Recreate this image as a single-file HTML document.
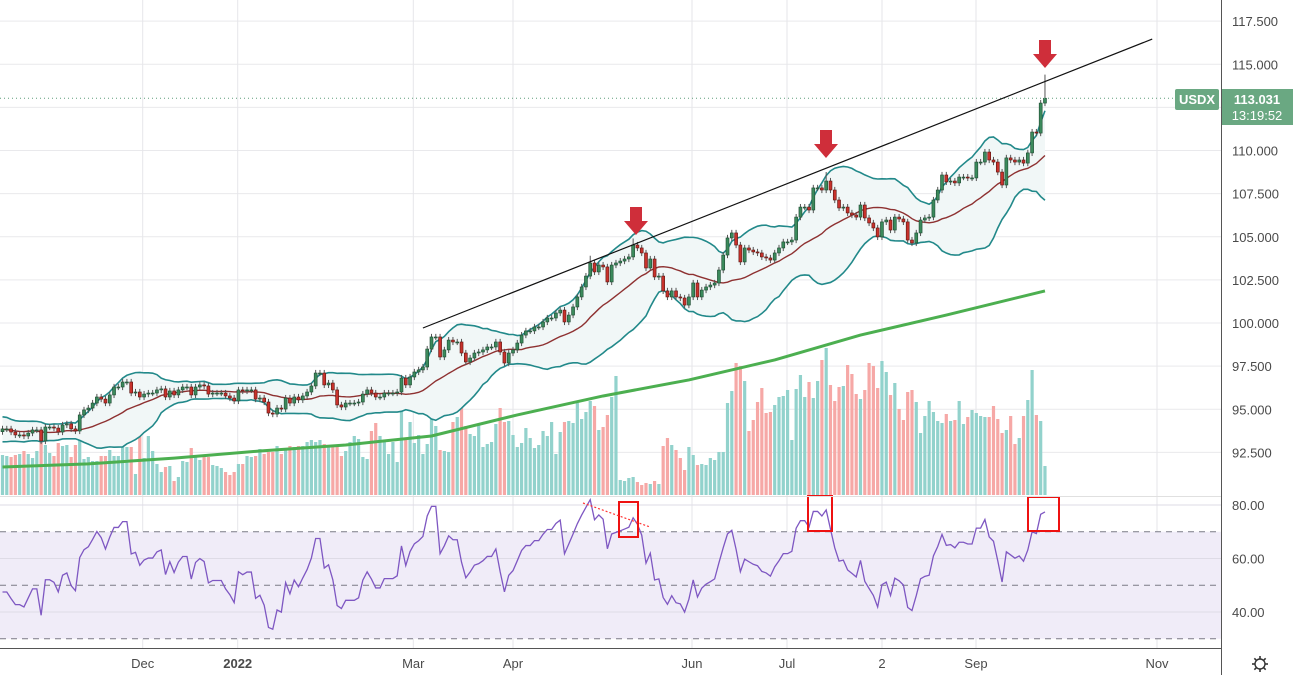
<!DOCTYPE html>
<html><head><meta charset="utf-8"><style>
html,body{margin:0;padding:0;background:#fff;}
body{width:1293px;height:675px;overflow:hidden;font-family:"Liberation Sans",sans-serif;}
svg text{font-family:"Liberation Sans",sans-serif;}
</style></head><body>
<svg id="chart" width="1293" height="675" xmlns="http://www.w3.org/2000/svg">
<g id="grid"></g>
<g id="rsiPane"></g>
<g id="volume"></g>
<g id="bands"></g>
<g id="sma"></g>
<g id="candles"></g>
<g id="annot"></g>
<g id="axes"></g>
</svg>
<script>
// ---- data ----
const prefixCloses = [94.2,94.5,94.3,94.0,93.6,93.3,93.5,93.9,94.2,94.4,94.1,93.7,93.4,93.2,93.5,93.8,94.0,93.6,93.7];
const closes = [93.86,93.86,93.68,93.51,93.51,93.45,93.62,93.80,93.80,93.16,93.97,93.97,93.91,93.68,94.09,94.15,93.86,93.74,94.67,94.96,
95.07,95.36,95.71,95.59,95.36,95.83,96.29,96.29,96.58,96.58,95.94,96.00,95.71,95.88,95.94,95.94,96.12,96.18,95.71,96.06,
95.83,96.12,96.29,96.29,95.83,96.29,96.41,96.35,95.88,95.94,95.94,95.94,95.77,95.65,95.48,96.12,96.06,96.12,96.12,95.59,
95.65,95.42,94.78,94.72,95.07,95.01,95.65,95.36,95.71,95.54,95.77,96.00,96.35,97.10,97.10,96.41,96.52,96.12,95.25,95.13,
95.36,95.36,95.36,95.42,95.88,96.12,95.94,95.71,95.71,95.94,95.94,95.94,96.00,96.81,96.41,96.87,97.16,97.28,97.45,98.49,
99.19,99.19,98.03,98.44,99.01,98.90,98.90,98.26,97.74,97.97,98.26,98.32,98.44,98.61,98.61,98.90,98.32,97.68,98.26,98.44,
98.84,99.30,99.54,99.54,99.77,99.77,100.06,100.29,100.29,100.58,100.75,100.06,100.46,100.93,101.51,102.09,102.72,103.48,102.96,103.36,
103.25,102.38,103.36,103.48,103.59,103.71,103.83,104.52,104.35,104.06,103.19,103.71,102.67,102.72,101.86,101.51,101.86,101.51,101.45,101.04,
101.51,102.32,101.51,101.91,102.09,102.20,102.32,103.07,103.94,104.93,105.22,104.52,103.54,104.35,104.23,104.12,104.06,103.83,103.77,103.65,
104.06,104.35,104.70,104.70,104.81,106.14,106.72,106.72,106.55,107.83,107.83,107.71,108.23,107.71,107.13,106.67,106.72,106.38,106.26,106.14,
106.84,106.09,105.80,105.51,104.99,105.86,105.97,105.39,106.14,106.03,105.86,104.81,104.64,105.22,105.97,106.09,106.14,107.13,107.71,108.58,
108.18,108.23,108.12,108.46,108.46,108.41,108.41,109.33,109.33,109.91,109.45,109.33,108.75,108.00,109.57,109.45,109.33,109.45,109.27,109.86,
111.07,111.01,112.75,113.03];
const volumes = [40,39,38,40,41,44,41,37,44,55,50,42,39,52,49,50,38,50,59,36,
38,34,34,39,39,45,39,39,57,48,48,21,65,37,59,44,31,23,28,29,
14,18,34,33,47,39,35,39,38,30,29,27,23,20,23,31,31,39,38,39,
46,41,43,43,49,41,46,49,48,49,49,53,55,53,55,51,49,48,49,39,
44,53,59,56,38,36,64,72,59,55,41,53,33,90,55,73,52,60,41,51,
77,69,45,44,43,73,78,94,69,61,59,71,48,51,53,71,87,73,74,60,
48,52,67,57,47,50,64,59,73,41,63,73,74,72,92,76,83,94,89,65,
68,80,98,119,15,14,17,18,13,10,12,11,14,11,49,57,50,45,37,25,
48,40,30,31,30,37,35,43,43,92,104,132,129,114,64,75,93,107,82,83,
90,98,99,105,55,106,120,98,113,97,114,135,147,110,94,108,109,130,121,101,
96,105,132,129,107,134,123,100,112,86,75,103,105,93,62,79,94,83,74,72,
81,74,75,94,71,78,85,82,79,78,78,89,76,62,65,79,51,57,79,95,
125,80,74,29];
const smaBars = [0,20,40,60,80,100,120,140,160,180,200,220,243];
const smaValues = [91.65,91.83,92.17,92.58,92.93,93.45,94.67,95.77,96.70,97.86,99.30,100.46,101.86];
const spikeHighs = {243:114.4,147:104.9,192:108.75,137:103.9};
const priceTicks = [117.5,115,110,107.5,105,102.5,100,97.5,95,92.5];
const priceGrid = [117.5,115,112.5,110,107.5,105,102.5,100,97.5,95,92.5];
const rsiTicks = [80,60,40];
const rsiDashed = [70,50,30];
const monthLabels = ["Dec","2022","Mar","Apr","Jun","Jul","2","Sep","Nov"];
const monthX = [142.7,237.7,413.3,513,692,787,882,976,1157];
const trendStart = [98,99.71], trendEnd = [268,116.46];

// ---- scales ----
const NS="http://www.w3.org/2000/svg";
const xOf = i => 2.5 + i*4.29;
const yP = p => 323 - (p-100)*17.25;
const yR = r => 505 + (80-r)*2.675;
const yV = v => 495 - v*1.0;
function mk(tag, attrs, parent){const e=document.createElementNS(NS,tag);for(const k in attrs)e.setAttribute(k,attrs[k]);(parent||document.getElementById('chart')).appendChild(e);return e;}
const G = id=>document.getElementById(id);

// grid
for(const p of priceGrid){const l=mk('line',{x1:0,x2:1221,y1:yP(p),y2:yP(p),stroke:'#e9e9ec','stroke-width':1},G('grid'));

}
for(const r of rsiTicks){const l=mk('line',{x1:0,x2:1221,y1:yR(r),y2:yR(r),stroke:'#e4e2ea','stroke-width':1},G('grid'));

}
// rsi band fill
const bf=mk('rect',{x:0,y:yR(70),width:1221,height:yR(30)-yR(70),fill:'#f0ecf8'},G('rsiPane'));


for(const r of rsiTicks){mk('line',{x1:0,x2:1221,y1:yR(r),y2:yR(r),stroke:'#dedbe6','stroke-width':1},G('rsiPane'));}
for(const x of monthX){const l=mk('line',{x1:x,x2:x,y1:0,y2:648,stroke:'#e6e6ea','stroke-width':1},G('grid'));

}
for(const r of rsiDashed){const l=mk('line',{x1:0,x2:1221,y1:yR(r),y2:yR(r),stroke:'#7a7a86','stroke-width':1,'stroke-dasharray':'6,5'},G('rsiPane'));

}

// opens / highs / lows
const allC = prefixCloses.concat(closes);
const opens = closes.map((c,i)=> i===0 ? prefixCloses[prefixCloses.length-1] : closes[i-1]);

// volume
closes.forEach((c,i)=>{
  const up = c>=opens[i];
  const r=mk('rect',{x:xOf(i)-1.6,y:yV(volumes[i]),width:3.2,height:volumes[i]*1.0,fill:up?'#92d2cc':'#f6a8a6'},G('volume'));
  
  
});

// bollinger
const P=prefixCloses.length, up=[],lo=[],mid=[];
for(let i=0;i<closes.length;i++){
  const w=allC.slice(i+P-19,i+P+1);
  const m=w.reduce((a,b)=>a+b,0)/w.length;
  const sd=Math.sqrt(w.reduce((a,b)=>a+(b-m)*(b-m),0)/w.length);
  mid.push(m);up.push(m+2*sd);lo.push(m-2*sd);
}
const ptsU=up.map((v,i)=>xOf(i)+','+yP(v)), ptsL=lo.map((v,i)=>xOf(i)+','+yP(v));
const fillPts=[...ptsU,...ptsL.slice().reverse()].join(' ');
const bfill=mk('polygon',{points:fillPts,fill:'#f1f7f7',stroke:'none'},G('bands'));


const bu=mk('polyline',{points:ptsU.join(' '),fill:'none',stroke:'#22898a','stroke-width':1.6},G('bands'));


const bl=mk('polyline',{points:ptsL.join(' '),fill:'none',stroke:'#22898a','stroke-width':1.6},G('bands'));


const bm=mk('polyline',{points:mid.map((v,i)=>xOf(i)+','+yP(v)).join(' '),fill:'none',stroke:'#8e3131','stroke-width':1.4},G('bands'));



// sma 200
const sl=mk('polyline',{points:smaBars.map((b,k)=>xOf(b)+','+yP(smaValues[k])).join(' '),fill:'none',stroke:'#4caf50','stroke-width':3,'stroke-linejoin':'round'},G('sma'));



// candles
closes.forEach((c,i)=>{
  const o=opens[i], isUp=c>=o;
  const hi=spikeHighs[i]!==undefined?spikeHighs[i]:Math.max(o,c)+0.18;
  const lw=Math.min(o,c)-0.18;
  const x=xOf(i);
  const w=mk('line',{x1:x,x2:x,y1:yP(hi),y2:yP(lw),stroke:'#555','stroke-width':1},G('candles'));
  
  
  const top=yP(Math.max(o,c)), h=Math.max(1,yP(Math.min(o,c))-top);
  const b=mk('rect',{x:x-1.5,y:top,width:3,height:h,fill:isUp?'#3b8a5c':'#c8322c',stroke:isUp?'#1d4a30':'#5a1410','stroke-width':0.6},G('candles'));
  
  
});

// RSI (Wilder 14)
const rsi=[]; let ag=0,al=0;
for(let k=1;k<allC.length;k++){
  const d=allC[k]-allC[k-1], g=Math.max(d,0), l=Math.max(-d,0);
  if(k<=14){ag+=g/14;al+=l/14;} else {ag=(ag*13+g)/14;al=(al*13+l)/14;}
  if(k>=P) rsi.push(al===0?100:100-100/(1+ag/al));
}
const rl=mk('polyline',{points:rsi.map((v,i)=>xOf(i)+','+yR(v)).join(' '),fill:'none',stroke:'#7e57c2','stroke-width':1.3},G('rsiPane'));



// current price line
const cp=mk('line',{x1:0,x2:1175,y1:yP(113.03),y2:yP(113.03),stroke:'#5f9e7a','stroke-width':1,'stroke-dasharray':'1,3'},G('annot'));



// trendline
const tl=mk('line',{x1:xOf(trendStart[0]),y1:yP(trendStart[1]),x2:xOf(trendEnd[0]),y2:yP(trendEnd[1]),stroke:'#111','stroke-width':1.2},G('annot'));



// arrows
[[636,207],[826,130],[1045,40]].forEach(([x,y])=>{
  const a=mk('polygon',{points:`${x-6},${y} ${x+6},${y} ${x+6},${y+14} ${x+12},${y+14} ${x},${y+28} ${x-12},${y+14} ${x-6},${y+14}`,fill:'#cf2e3a'},G('annot'));
  
  
});
// rsi boxes
[[619,502,19,35],[808,496,24,35],[1028,497,31,34]].forEach(([x,y,w,h])=>{
  const r=mk('rect',{x,y,width:w,height:h,fill:'none',stroke:'#ee1111','stroke-width':2},G('annot'));
  
  
});
const dl=mk('line',{x1:583,y1:503,x2:650,y2:527,stroke:'#ff3333','stroke-width':1.2,'stroke-dasharray':'2,2'},G('annot'));



// axes
const ax=G('axes');
mk('rect',{x:1222,y:0,width:71,height:675,fill:'#fff'},ax);
mk('rect',{x:0,y:649,width:1222,height:26,fill:'#fff'},ax);
mk('line',{x1:1221.5,x2:1221.5,y1:0,y2:675,stroke:'#555','stroke-width':1},ax);
mk('line',{x1:0,x2:1222,y1:648.5,y2:648.5,stroke:'#555','stroke-width':1},ax);
mk('line',{x1:0,x2:1221,y1:496.5,y2:496.5,stroke:'#e0e0e0','stroke-width':1},ax);
for(const p of priceTicks){const t=mk('text',{x:1232,y:yP(p)+5,'font-size':13,fill:'#4a4a4a'},ax);t.textContent=p.toFixed(3);

}
for(const r of rsiTicks){const t=mk('text',{x:1232,y:yR(r)+5,'font-size':13,fill:'#4a4a4a'},ax);t.textContent=r.toFixed(2);

}
monthLabels.forEach((m,k)=>{const t=mk('text',{x:monthX[k],y:668,'font-size':13,fill:'#4a4a4a','text-anchor':'middle','font-weight':m==='2022'?'bold':'normal'},ax);t.textContent=m;

});
// price labels
const sym=mk('rect',{x:1175,y:89,width:44,height:21,rx:2,fill:'#6aa882'},ax);


const st=mk('text',{x:1197,y:104,'font-size':13,fill:'#fff','text-anchor':'middle','font-weight':'bold'},ax);st.textContent='USDX';
const pb=mk('rect',{x:1222,y:89,width:71,height:36,fill:'#6aa882'},ax);


const pt=mk('text',{x:1257,y:104,'font-size':13,fill:'#fff','text-anchor':'middle','font-weight':'bold'},ax);pt.textContent='113.031';
const tt=mk('text',{x:1257,y:120,'font-size':13,fill:'#fff','text-anchor':'middle'},ax);tt.textContent='13:19:52';
// gear
const gear=mk('g',{},ax);


mk('circle',{cx:1260,cy:664,r:5,fill:'none',stroke:'#333','stroke-width':1.4},gear);
for(let k=0;k<8;k++){const a=k*Math.PI/4;mk('line',{x1:1260+5*Math.cos(a),y1:664+5*Math.sin(a),x2:1260+8*Math.cos(a),y2:664+8*Math.sin(a),stroke:'#333','stroke-width':1.6},gear);}
</script>
</body></html>
